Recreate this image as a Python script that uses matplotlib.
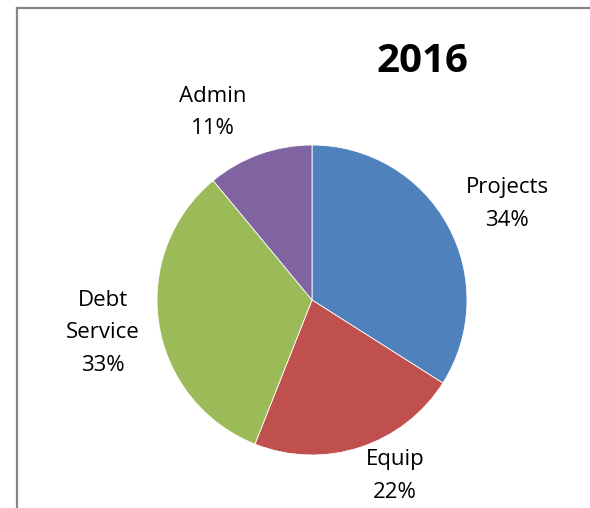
import matplotlib
matplotlib.use('Agg')
import matplotlib.pyplot as plt

# data
categories = ['Projects', 'Equip', 'Debt\nService', 'Admin']
shares = [34, 22, 33, 11]
colors = ['#4F81BD', '#C0504D', '#9BBB59', '#8064A2']
title = '2016'

# label spots in pie units (radius = 1)
label_pos = [(1.26, 0.62), (0.535, -1.135), (-1.35, -0.21), (-0.64, 1.21)]

W, H = 590, 508
fig = plt.figure(figsize=(W / 100, H / 100), dpi=100)
fig.patch.set_facecolor('white')

# chart frame (only left and top edges show)
fig.add_artist(plt.Line2D([16.5 / W, 16.5 / W], [0, 1 - 7.5 / H], color='#868686', lw=1.6))
fig.add_artist(plt.Line2D([16.5 / W, 1], [1 - 7.5 / H, 1 - 7.5 / H], color='#868686', lw=1.6))

cx, cy, r = 312, 300, 155
ax = fig.add_axes([(cx - r) / W, (H - cy - r) / H, 2 * r / W, 2 * r / H])
ax.pie(shares, colors=colors, startangle=90, counterclock=False, radius=1,
       wedgeprops=dict(linewidth=0.6, edgecolor='white'))
ax.set_xlim(-1, 1)
ax.set_ylim(-1, 1)
ax.set_aspect('equal')
ax.axis('off')

for name, val, (x, y) in zip(categories, shares, label_pos):
    ax.text(x, y, f'{name}\n{val}%', ha='center', va='center', fontsize=16,
            family='Open Sans', linespacing=1.72, clip_on=False)

fig.text(422.5 / W, 1 - 62 / H, title, ha='center', va='center', fontsize=29,
         fontweight='bold', family='Open Sans')

plt.savefig('out.png', dpi=100)
